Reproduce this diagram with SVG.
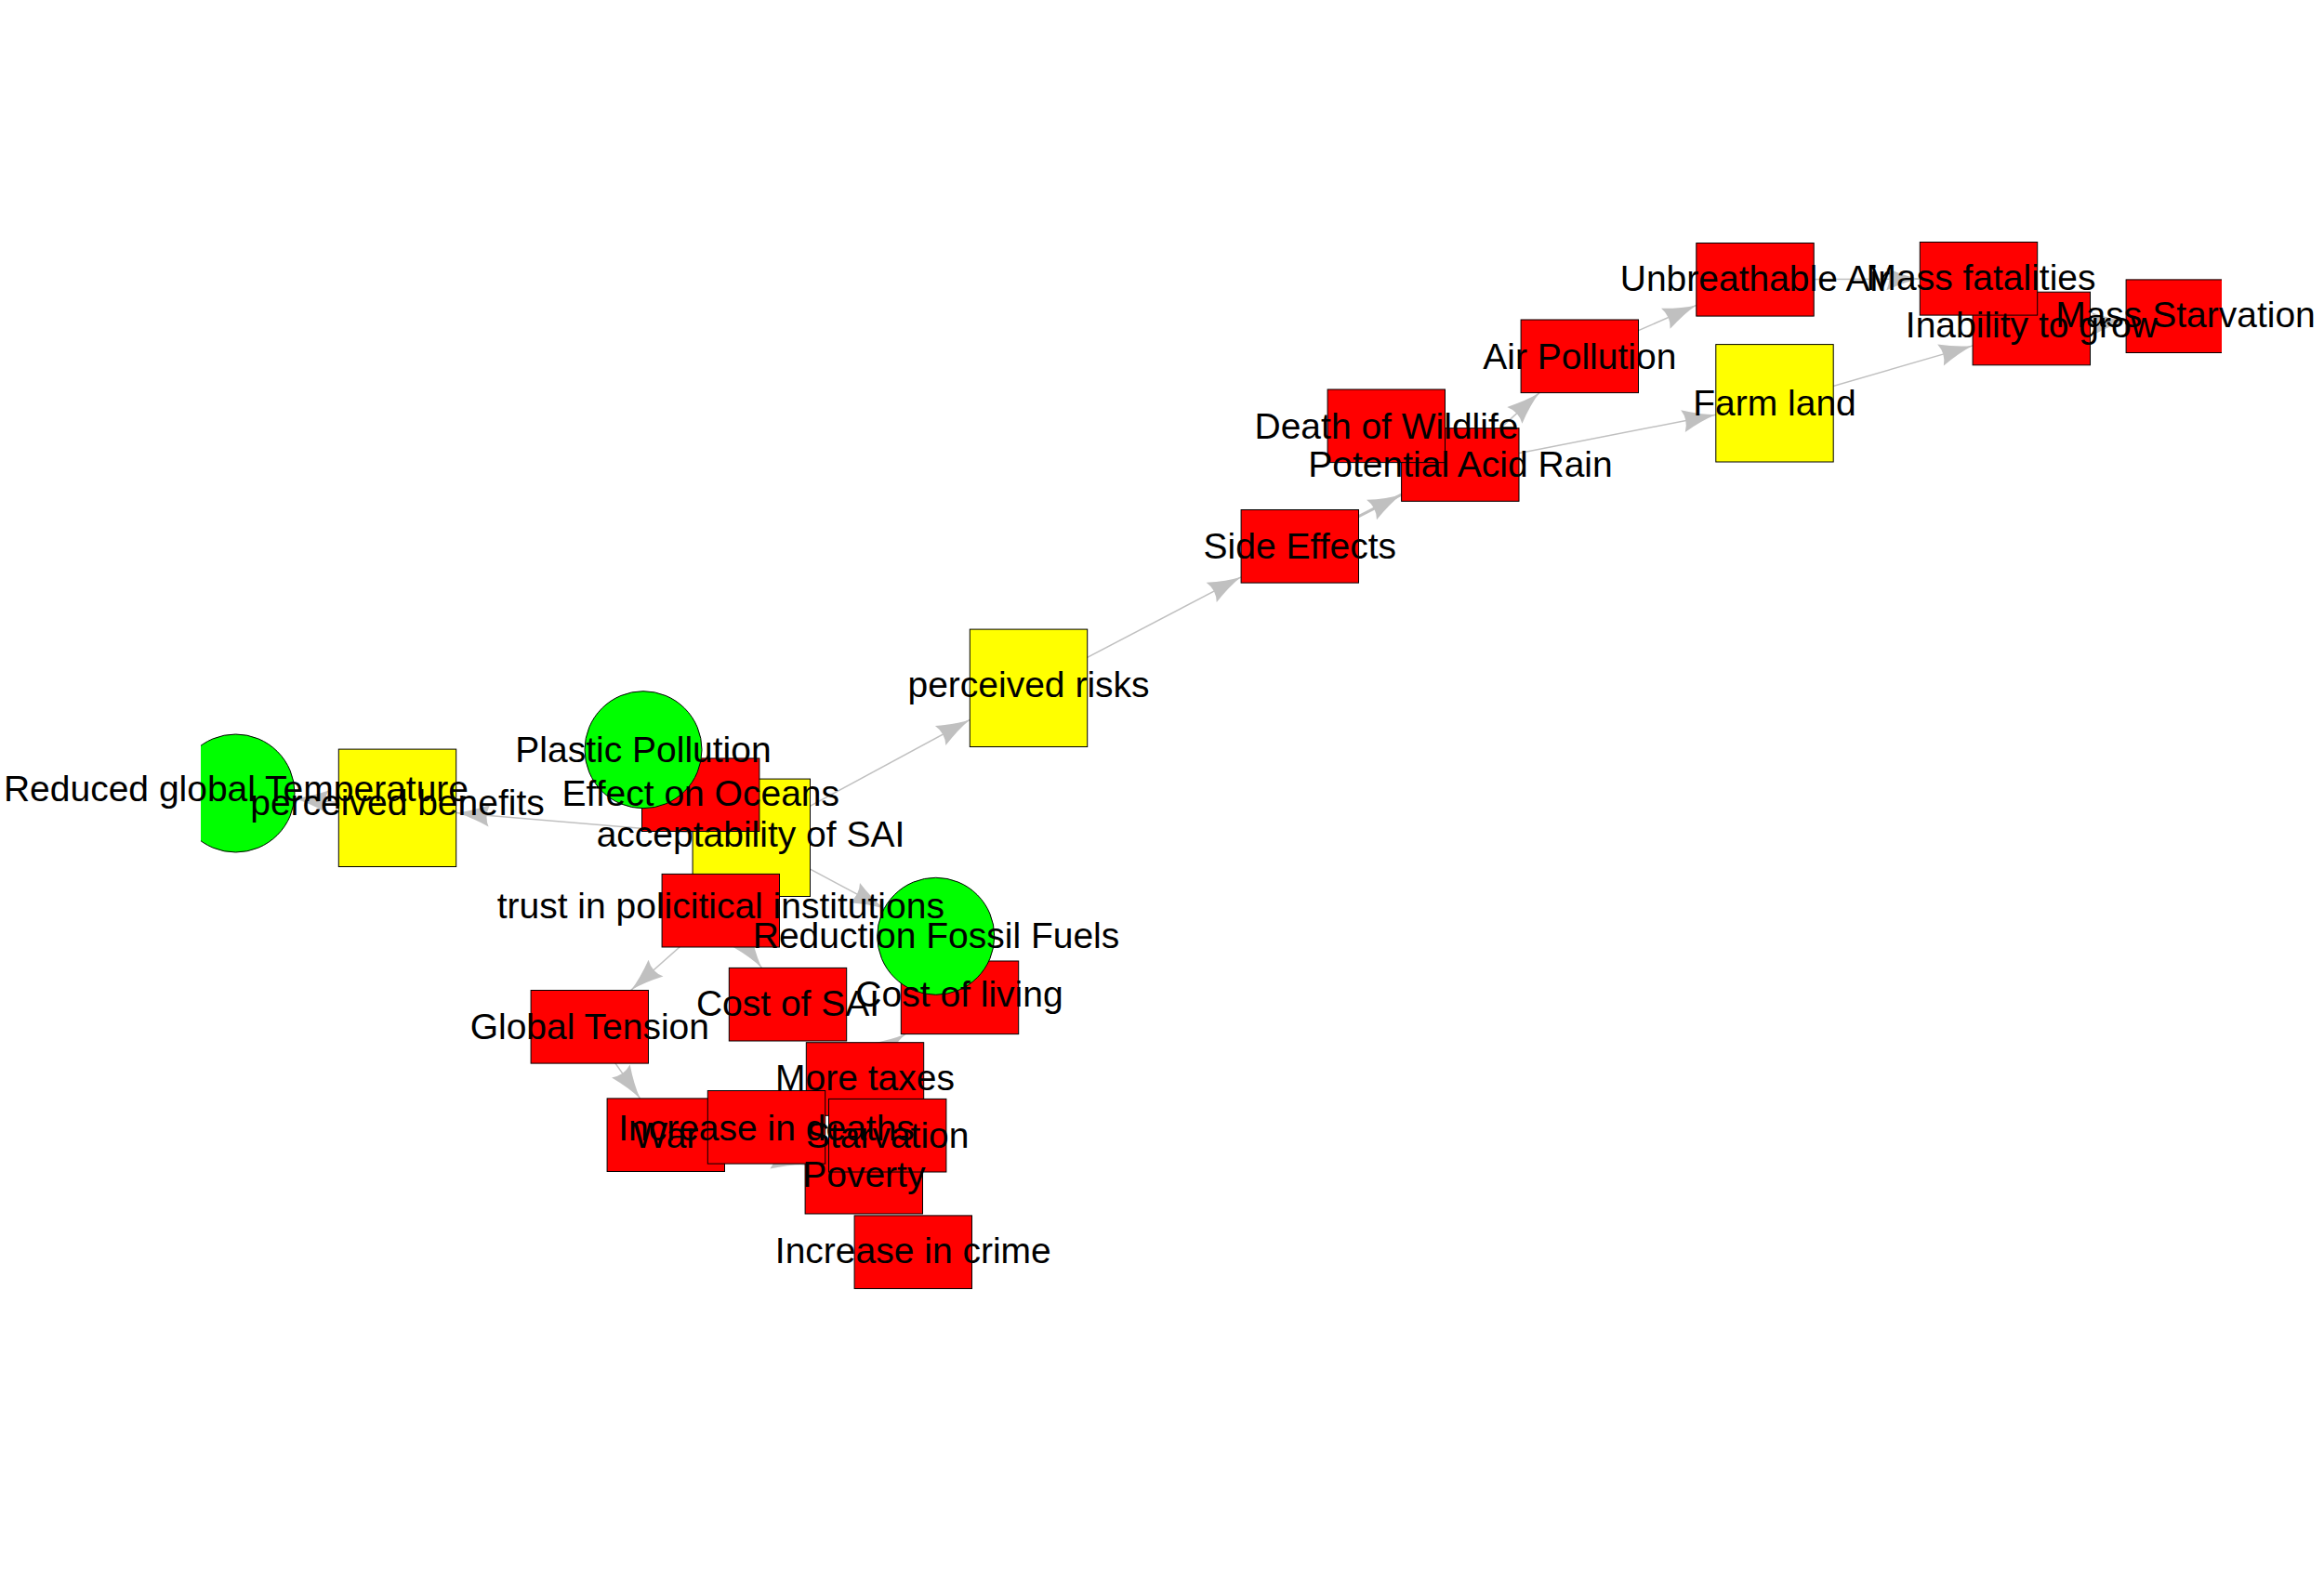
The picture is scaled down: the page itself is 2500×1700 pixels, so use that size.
<svg xmlns="http://www.w3.org/2000/svg" width="2500" height="1700" viewBox="0 0 2500 1700">
<style>
.bg{fill:#ffffff}
.e{stroke:#c0c0c0;stroke-width:1.5;fill:none;marker-end:url(#arr)}
.e.thick{stroke-width:3}
.r{fill:#ff0000;stroke:#000000;stroke-width:1}
.y{fill:#ffff00;stroke:#000000;stroke-width:1}
.g{fill:#00ff00;stroke:#000000;stroke-width:1}
.t{font-family:"Liberation Sans",Arial,Helvetica,sans-serif;font-size:39px;fill:#000000;text-anchor:middle}
</style>
<defs>
<marker id="arr" viewBox="-37 -13 38 26" refX="0" refY="0" markerWidth="38" markerHeight="26" markerUnits="userSpaceOnUse" orient="auto">
<path d="M0,0 Q-16,-3 -36,-12 Q-30,0 -36,12 Q-16,3 0,0 Z" fill="#c0c0c0"/>
</marker>
<clipPath id="area"><rect x="216" y="0" width="2174" height="1700"/></clipPath>
</defs>
<rect class="bg" x="0" y="0" width="2500" height="1700"/>
<g id="connectors">
<line class="e" x1="808.3" y1="901.3" x2="490.7" y2="874.6"/>
<line class="e" x1="427.5" y1="869.3" x2="316.7" y2="859.2"/>
<line class="e" x1="808.3" y1="901.3" x2="1043.3" y2="774.4"/>
<line class="e" x1="808.3" y1="901.3" x2="951.1" y2="977.6"/>
<line class="e" x1="1106.5" y1="740.3" x2="1335.1" y2="620.8"/>
<line class="e thick" x1="1398.3" y1="587.8" x2="1507.6" y2="532.2"/>
<line class="e" x1="1570.8" y1="500" x2="1656" y2="422.6"/>
<line class="e" x1="1570.8" y1="500" x2="1845.8" y2="446.2"/>
<line class="e" x1="1699.3" y1="383.3" x2="1824.8" y2="328.4"/>
<line class="e" x1="1888" y1="300.8" x2="2065.3" y2="300.1"/>
<line class="e" x1="1909" y1="433.8" x2="2122.1" y2="371.9"/>
<line class="e" x1="2185.3" y1="353.5" x2="2287.1" y2="345.3"/>
<line class="e" x1="775.3" y1="979.7" x2="678.6" y2="1065.5"/>
<line class="e" x1="775.3" y1="979.7" x2="819.4" y2="1041.4"/>
<line class="e" x1="634.3" y1="1104.8" x2="688.6" y2="1181.9"/>
<line class="e" x1="716.3" y1="1221.2" x2="866.1" y2="1253.2"/>
<line class="e" x1="824.5" y1="1212.8" x2="973.9" y2="1112.6"/>
</g>
<g clip-path="url(#area)">
<g id="n-acceptability"><rect class="y" x="745.1" y="838.1" width="126.4" height="126.4"/></g>
<g id="n-effect-oceans"><rect class="r" x="690.5" y="815.9" width="126.4" height="78.6"/></g>
<g id="n-plastic"><circle class="g" cx="692" cy="806.7" r="63"/></g>
<g id="n-trust"><rect class="r" x="712.1" y="940.4" width="126.4" height="78.6"/></g>
<g id="n-perceived-benefits"><rect class="y" x="364.3" y="806.1" width="126.4" height="126.4"/></g>
<g id="n-reduced-temp"><circle class="g" cx="253.5" cy="853.5" r="63.5"/></g>
<g id="n-perceived-risks"><rect class="y" x="1043.3" y="677.1" width="126.4" height="126.4"/></g>
<g id="n-cost-sai"><rect class="r" x="784.3" y="1041.4" width="126.4" height="78.6"/></g>
<g id="n-cost-living"><rect class="r" x="969.3" y="1034" width="126.4" height="78.6"/></g>
<g id="n-reduction-fossil"><circle class="g" cx="1006.7" cy="1007.3" r="63"/></g>
<g id="n-global-tension"><rect class="r" x="571.1" y="1065.5" width="126.4" height="78.6"/></g>
<g id="n-war"><rect class="r" x="653.1" y="1181.9" width="126.4" height="78.6"/></g>
<g id="n-more-taxes"><rect class="r" x="867.3" y="1121.7" width="126.4" height="78.6"/></g>
<g id="n-poverty"><rect class="r" x="866.1" y="1227.4" width="126.4" height="78.6"/></g>
<g id="n-increase-deaths"><rect class="r" x="761.3" y="1173.5" width="126.4" height="78.6"/></g>
<g id="n-starvation"><rect class="r" x="891.5" y="1182.4" width="126.4" height="78.6"/></g>
<g id="n-increase-crime"><rect class="r" x="919.1" y="1307.9" width="126.4" height="78.6"/></g>
<g id="n-side-effects"><rect class="r" x="1335.1" y="548.5" width="126.4" height="78.6"/></g>
<g id="n-acid-rain"><rect class="r" x="1507.6" y="460.7" width="126.4" height="78.6"/></g>
<g id="n-death-wildlife"><rect class="r" x="1428.1" y="419" width="126.4" height="78.6"/></g>
<g id="n-air-pollution"><rect class="r" x="1636.1" y="344" width="126.4" height="78.6"/></g>
<g id="n-unbreathable"><rect class="r" x="1824.8" y="261.5" width="126.4" height="78.6"/></g>
<g id="n-farm-land"><rect class="y" x="1845.8" y="370.6" width="126.4" height="126.4"/></g>
<g id="n-inability"><rect class="r" x="2122.1" y="314.2" width="126.4" height="78.6"/></g>
<g id="n-mass-fatalities"><rect class="r" x="2065.3" y="260.5" width="126.4" height="78.6"/></g>
<g id="n-mass-starvation"><rect class="r" x="2287.1" y="300.9" width="126.4" height="78.6"/></g>
</g>
<g id="labels">
<text class="t" x="254" y="861.5">Reduced global Temperature</text>
<text class="t" x="427.5" y="876.7">perceived benefits</text>
<text class="t" x="692" y="820">Plastic Pollution</text>
<text class="t" x="753.8" y="866.7">Effect on Oceans</text>
<text class="t" x="807.5" y="910.7">acceptability of SAI</text>
<text class="t" x="775.3" y="988.3">trust in policitical institutions</text>
<text class="t" x="1007" y="1020">Reduction Fossil Fuels</text>
<text class="t" x="847.5" y="1093.3">Cost of SAI</text>
<text class="t" x="1032" y="1082.7">Cost of living</text>
<text class="t" x="634.3" y="1118.3">Global Tension</text>
<text class="t" x="930.5" y="1173.3">More taxes</text>
<text class="t" x="716.3" y="1235">War</text>
<text class="t" x="824.5" y="1226.7">Increase in deaths</text>
<text class="t" x="954.7" y="1235">Starvation</text>
<text class="t" x="929.3" y="1276.7">Poverty</text>
<text class="t" x="982.3" y="1359.3">Increase in crime</text>
<text class="t" x="1106.5" y="750">perceived risks</text>
<text class="t" x="1398.3" y="600.7">Side Effects</text>
<text class="t" x="1491.5" y="471.7">Death of Wildlife</text>
<text class="t" x="1571" y="513.3">Potential Acid Rain</text>
<text class="t" x="1699.3" y="396.7">Air Pollution</text>
<text class="t" x="1909" y="446.7">Farm land</text>
<text class="t" x="1888" y="312.7">Unbreathable Air</text>
<text class="t" x="2131" y="311.7">Mass fatalities</text>
<text class="t" x="2185.3" y="362.7">Inability to grow</text>
<text class="t" x="2351" y="351.7">Mass Starvation</text>
</g>
</svg>
